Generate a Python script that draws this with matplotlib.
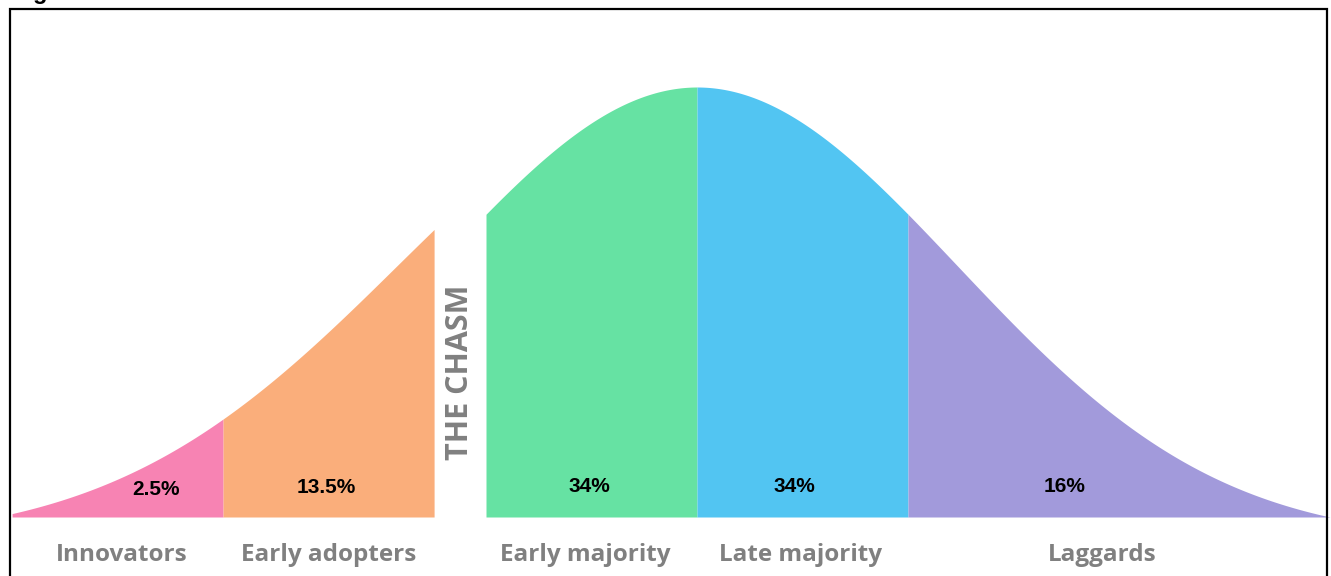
import numpy as np
import matplotlib
matplotlib.use("Agg")
import matplotlib.pyplot as plt
from matplotlib.patches import Rectangle

# ---- data ----
categories = ["Innovators", "Early adopters", "Early majority", "Late majority", "Laggards"]
shares = ["2.5%", "13.5%", "34%", "34%", "16%"]
edges = [-3, -2, -1, 0, 1, 3]          # segment edges, in standard deviations
colors = ["#F783B3", "#FAAE7B", "#66E2A3", "#52C5F2", "#A29ADB"]
chasm_label = "THE CHASM"

# ---- layout ----
W, H = 1331, 576
px_per_sd = 211.0
mean_px = 697.0
base_px = 517.0
peak_h = 430.0
gap = 0.246            # width of the chasm (sd units)
sigma = 1.232          # curve width
left_stretch = 0.93    # left-hand piece is drawn slightly compressed
share_frac = [0.68, 0.49, 0.49, 0.46, 0.37]
share_y = [0.063, 0.068, 0.072, 0.072, 0.070]
cat_frac = [0.52, 0.50, 0.47, 0.49, 0.46]

c0 = np.exp(-9 / (2 * sigma ** 2))


def bell(u):
    return (np.exp(-u ** 2 / (2 * sigma ** 2)) - c0) / (1 - c0)


fig = plt.figure(figsize=(W / 100, H / 100), dpi=100)
ax = fig.add_axes([0, 0, 1, 1])
ax.set_xlim((0 - mean_px) / px_per_sd, (W - mean_px) / px_per_sd)
ax.set_ylim((base_px - H) / peak_h, base_px / peak_h)
ax.axis("off")

label_font = ["Open Sans", "DejaVu Sans"]
num_font = ["Liberation Sans", "DejaVu Sans"]

for i in range(len(categories)):
    a, b = edges[i], edges[i + 1]
    x = np.linspace(a, b, 300)
    if b <= -1:  # before the chasm
        u = -2 + (x + 2) * left_stretch
        xd = x - gap
    else:
        u = x
        xd = x
    y = np.clip(bell(u), 0, None)
    ax.fill_between(xd, 0, y, color=colors[i], linewidth=0, antialiased=True)
    x0 = xd[0]
    x1 = xd[-1]
    ax.text(x0 + (x1 - x0) * share_frac[i], share_y[i], shares[i],
            ha="center", va="center", fontsize=15, fontweight="bold",
            family=num_font, color="black")
    ax.text(x0 + (x1 - x0) * cat_frac[i], (base_px - 561) / peak_h, categories[i],
            ha="center", va="baseline", fontsize=17.5, fontweight="bold",
            family=label_font, color="#808080")

ax.text((460 - mean_px) / px_per_sd, (base_px - 372) / peak_h, chasm_label,
        rotation=90, ha="center", va="center", fontsize=22, fontweight="bold",
        family=label_font, color="#808080")

# frame and cut-off title
fig.patches.append(Rectangle((10 / W, -0.1), (1327 - 10) / W, 1.1 - 9 / H,
                             transform=fig.transFigure, fill=False,
                             edgecolor="black", linewidth=1.6))
fig.text(12 / W, 1 + 1 / H, "Figure", ha="left", va="baseline",
         fontsize=17, fontweight="bold", family=num_font, color="black")

fig.savefig("out.png", dpi=100)
